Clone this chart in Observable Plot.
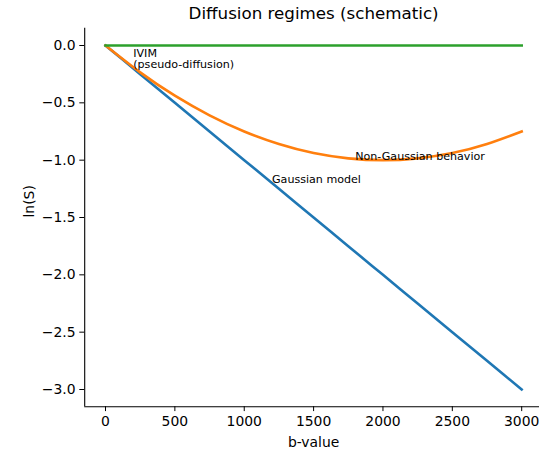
<!DOCTYPE html>
<html>
<head>
<meta charset="utf-8">
<script src="https://cdn.jsdelivr.net/npm/d3@7"></script>
<script src="https://cdn.jsdelivr.net/npm/@observablehq/plot@0.6"></script>
<style>
  html, body { margin: 0; padding: 0; background: #fff; overflow: hidden; }
</style>
</head>
<body>
<div id="chart"></div>
<script>
const title = "Diffusion regimes (schematic)";
const xLabel = "b-value";
const yLabel = "ln(S)";
const bValues = [0, 250, 500, 750, 1000, 1250, 1500, 1750, 2000, 2250, 2500, 2750, 3000];
const gaussian = [0, -0.25, -0.5, -0.75, -1.0, -1.25, -1.5, -1.75, -2.0, -2.25, -2.5, -2.75, -3.0];
const nonGaussian = [0, -0.234, -0.438, -0.609, -0.75, -0.859, -0.938, -0.984, -1.0, -0.984, -0.938, -0.859, -0.75];
const ivim = [0, 0, 0, 0, 0, 0, 0, 0, 0, 0, 0, 0, 0];
const seriesNames = ["Gaussian", "Non-Gaussian", "IVIM"];
const seriesColors = ["#1f77b4", "#ff7f0e", "#2ca02c"];
const xTicks = [0, 500, 1000, 1500, 2000, 2500, 3000];
const yTicks = [0, -0.5, -1.0, -1.5, -2.0, -2.5, -3.0];
const annotations = [
  {b: 200, v: -0.2, text: "IVIM\n(pseudo-diffusion)"},
  {b: 1800, v: -1.0, text: "Non-Gaussian behavior"},
  {b: 1200, v: -1.2, text: "Gaussian model"}
];

const seriesValues = [gaussian, nonGaussian, ivim];
const rows = [];
seriesValues.forEach((vals, k) => {
  vals.forEach((v, i) => rows.push({series: seriesNames[k], b: bValues[i], v}));
});

const xDomain = [-150, 3150];
const yDomain = [-3.15, 0.15];

const chart = Plot.plot({
  width: 539,
  height: 451,
  marginLeft: 84.2,
  marginRight: -3,
  marginTop: 27.8,
  marginBottom: 44.8,
  style: {fontFamily: "DejaVu Sans", fontSize: "13.9px", color: "#000", background: "#fff"},
  x: {domain: xDomain},
  y: {domain: yDomain},
  color: {domain: seriesNames, range: seriesColors},
  marks: [
    Plot.line(rows, {x: "b", y: "v", z: "series", stroke: "series", strokeWidth: 2.6, strokeLinecap: "square", curve: "natural"}),
    Plot.ruleX([xDomain[0]], {stroke: "#000", strokeWidth: 1.1}),
    Plot.ruleY([yDomain[0]], {stroke: "#000", strokeWidth: 1.1}),
    Plot.axisX({ticks: xTicks, tickFormat: d => String(d), tickSize: 4.9, tickPadding: 4.2, label: null, stroke: "#000", fill: "#000"}),
    Plot.axisY({ticks: yTicks, tickFormat: d => d.toFixed(1).replace("-", "\u2212"), tickSize: 4.9, tickPadding: 4.2, label: null, stroke: "#000", fill: "#000"}),
    Plot.text(annotations, {x: "b", y: "v", text: "text", textAnchor: "start", lineAnchor: "bottom", fontSize: 11.1, fill: "#000", lineHeight: 1.05}),
    Plot.text([title], {frameAnchor: "top", dy: -9, lineAnchor: "bottom", fontSize: 16.7, fill: "#000"}),
    Plot.text([xLabel], {frameAnchor: "bottom", dy: 40, lineAnchor: "bottom", fontSize: 13.9, fill: "#000"}),
    Plot.text([yLabel], {frameAnchor: "left", dx: -55, rotate: -90, lineAnchor: "middle", fontSize: 13.9, fill: "#000"})
  ]
});
document.getElementById("chart").appendChild(chart);
</script>
</body>
</html>
